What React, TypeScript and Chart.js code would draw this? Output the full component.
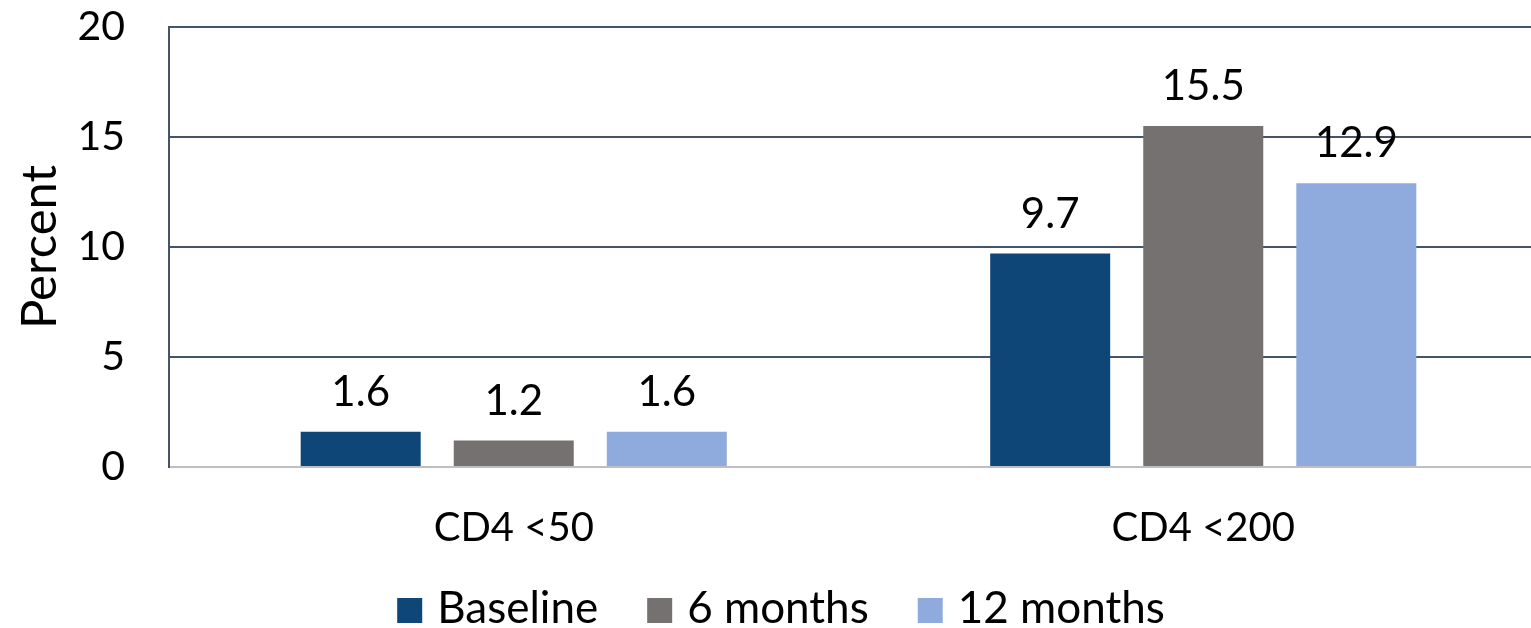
import React, { useEffect, useRef } from "react";
import { Chart, registerables } from "chart.js";

Chart.register(...registerables);

const categories = ["CD4 <50", "CD4 <200"];
const seriesNames = ["Baseline", "6 months", "12 months"];
const baseline = [1.6, 9.7];
const sixMonths = [1.2, 15.5];
const twelveMonths = [1.6, 12.9];
const yTicks = [0, 5, 10, 15, 20];

const FONT = "Lato";
const colors = ["#0e4677", "#767171", "#8faadc"];

const dataLabels = {
  id: "dataLabels",
  afterDatasetsDraw(chart: any) {
    const ctx = chart.ctx;
    ctx.save();
    ctx.font = `42px ${FONT}`;
    ctx.fillStyle = "#000";
    ctx.textAlign = "center";
    ctx.textBaseline = "alphabetic";
    chart.data.datasets.forEach((ds: any, i: number) => {
      const meta = chart.getDatasetMeta(i);
      meta.data.forEach((el: any, j: number) => {
        ctx.fillText(ds.data[j].toFixed(1), el.x, el.y - 26);
      });
    });
    ctx.restore();
  },
};

const customLegend = {
  id: "customLegend",
  afterDraw(chart: any) {
    const ctx = chart.ctx;
    ctx.save();
    ctx.font = `44px ${FONT}`;
    ctx.textBaseline = "alphabetic";
    ctx.textAlign = "left";
    const box = 25;
    const gapText = 15;
    const gapItem = 49;
    const items = chart.data.datasets.map((ds: any) => ({
      text: ds.label,
      color: ds.backgroundColor,
      w: ctx.measureText(ds.label).width,
    }));
    const total =
      items.reduce((s: number, it: any) => s + box + gapText + it.w, 0) +
      gapItem * (items.length - 1);
    let x = 781 - total / 2;
    const baseY = 623;
    items.forEach((it: any) => {
      ctx.fillStyle = it.color;
      ctx.fillRect(x, baseY - box, box, box);
      ctx.fillStyle = "#000";
      ctx.fillText(it.text, x + box + gapText, baseY);
      x += box + gapText + it.w + gapItem;
    });
    ctx.restore();
  },
};

export default function App() {
  const ref = useRef<HTMLCanvasElement>(null);
  useEffect(() => {
    if (!ref.current) return;
    const chart = new Chart(ref.current, {
      type: "bar",
      data: {
        labels: categories,
        datasets: [baseline, sixMonths, twelveMonths].map((d, i) => ({
          label: seriesNames[i],
          data: d,
          backgroundColor: colors[i],
          categoryPercentage: 0.666,
          barPercentage: 0.784,
        })),
      },
      options: {
        animation: false,
        responsive: false,
        maintainAspectRatio: false,
        layout: { padding: { top: 27, left: 0, right: 0, bottom: 39 } },
        plugins: {
          tooltip: { enabled: false },
          legend: { display: false },
        },
        scales: {
          x: {
            grid: { display: false, drawTicks: false },
            border: { display: true, color: "#bfbfbf", width: 2 },
            ticks: {
              color: "#000",
              font: { family: FONT, size: 40 },
              padding: 37,
            },
            afterFit: (s: any) => {
              s.paddingLeft = 0;
              s.paddingRight = 0;
            },
          },
          y: {
            min: 0,
            max: 20,
            afterBuildTicks: (axis: any) => {
              axis.ticks = yTicks.map((v) => ({ value: v }));
            },
            afterFit: (s: any) => {
              s.paddingTop = 0;
              s.paddingBottom = 0;
              s.width = 169;
            },
            grid: {
              drawTicks: false,
              lineWidth: 2,
              color: (c: any) => (c.tick && c.tick.value === 0 ? "#bfbfbf" : "#44546a"),
            },
            border: { display: true, color: "#44546a", width: 2 },
            ticks: {
              color: "#000",
              font: { family: FONT, size: 41 },
              padding: 44,
            },
            title: {
              display: true,
              text: "Percent",
              color: "#000",
              font: { family: FONT, size: 49 },
              padding: { top: 11, bottom: 0 },
            },
          },
        },
      },
      plugins: [dataLabels, customLegend],
    });
    return () => chart.destroy();
  }, []);
  return (
    <div
      style={{
        position: "fixed",
        left: 0,
        top: 0,
        width: 1531,
        height: 628,
        overflow: "hidden",
        background: "#fff",
      }}
    >
      <canvas ref={ref} width={1548} height={628} style={{ display: "block" }} />
    </div>
  );
}
